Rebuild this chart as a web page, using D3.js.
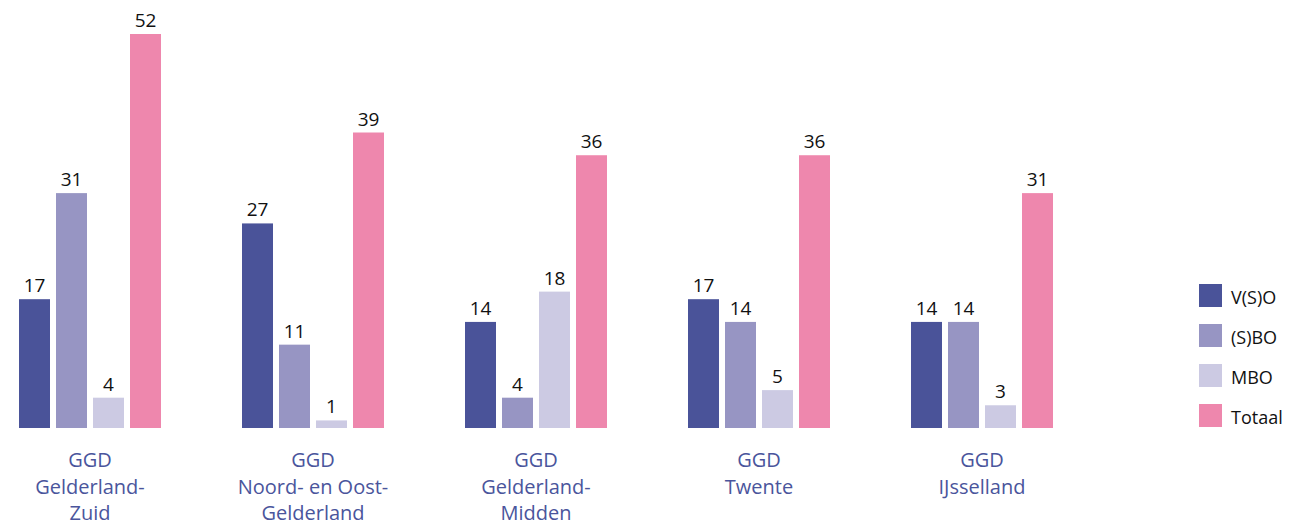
<!DOCTYPE html>
<html><head><meta charset="utf-8">
<script src="https://cdn.jsdelivr.net/npm/d3@7"></script>
<style>
html,body{margin:0;padding:0;background:#fff;}
svg{display:block;}
text{font-family:"Open Sans",sans-serif;}
</style></head>
<body><svg id="c" width="1291" height="525"></svg>
<script>
const categories = ["GGD Gelderland-Zuid","GGD Noord- en Oost-Gelderland","GGD Gelderland-Midden","GGD Twente","GGD IJsselland"];
const categoryLines = [["GGD","Gelderland-","Zuid"],["GGD","Noord- en Oost-","Gelderland"],["GGD","Gelderland-","Midden"],["GGD","Twente"],["GGD","IJsselland"]];
const series = ["V(S)O","(S)BO","MBO","Totaal"];
const vso = [17,27,14,17,14];
const sbo = [31,11,4,14,14];
const mbo = [4,1,18,5,3];
const totaal = [52,39,36,36,31];
const colors = ["#4a5399","#9795c3","#cccae3","#ee87ad"];

const values = [vso,sbo,mbo,totaal];
const data = categories.map((c,i)=>({cat:c, lines:categoryLines[i], vals:series.map((s,j)=>({s, v:values[j][i], j}))}));

const svg = d3.select("#c");
const x0 = d3.scaleBand().domain(categories).range([19,1053]).paddingInner(81/223).paddingOuter(0);
const x1 = d3.scaleBand().domain(series).range([0,x0.bandwidth()]).paddingInner(6/37).paddingOuter(0);
const y = d3.scaleLinear().domain([0,52]).range([428,34]);
const color = d3.scaleOrdinal().domain(series).range(colors);

const g = svg.selectAll("g.grp").data(data).enter().append("g").attr("class","grp")
  .attr("transform",d=>`translate(${x0(d.cat)},0)`);
g.selectAll("rect").data(d=>d.vals).enter().append("rect")
  .attr("x",d=>x1(d.s)).attr("width",x1.bandwidth())
  .attr("y",d=>y(d.v)).attr("height",d=>y(0)-y(d.v))
  .attr("fill",d=>color(d.s));
g.selectAll("text.val").data(d=>d.vals).enter().append("text").attr("class","val")
  .attr("x",d=>x1(d.s)+x1.bandwidth()/2).attr("y",d=>y(d.v)-7)
  .attr("text-anchor","middle").attr("font-size",19).attr("font-weight",500).attr("fill","#111")
  .text(d=>d.v);
const lab = g.append("text").attr("text-anchor","middle").attr("font-size",20).attr("fill","#4a559c");
lab.selectAll("tspan").data(d=>d.lines).enter().append("tspan")
  .attr("x",x0.bandwidth()/2).attr("y",(d,i)=>467+i*26.5).text(d=>d);

const leg = svg.append("g").selectAll("g").data(series).enter().append("g")
  .attr("transform",(d,i)=>`translate(1199,${284+i*40})`);
leg.append("rect").attr("width",23).attr("height",23).attr("fill",d=>color(d));
leg.append("text").attr("x",32).attr("y",20).attr("font-size",18).attr("fill","#111").text(d=>d);
</script></body></html>
